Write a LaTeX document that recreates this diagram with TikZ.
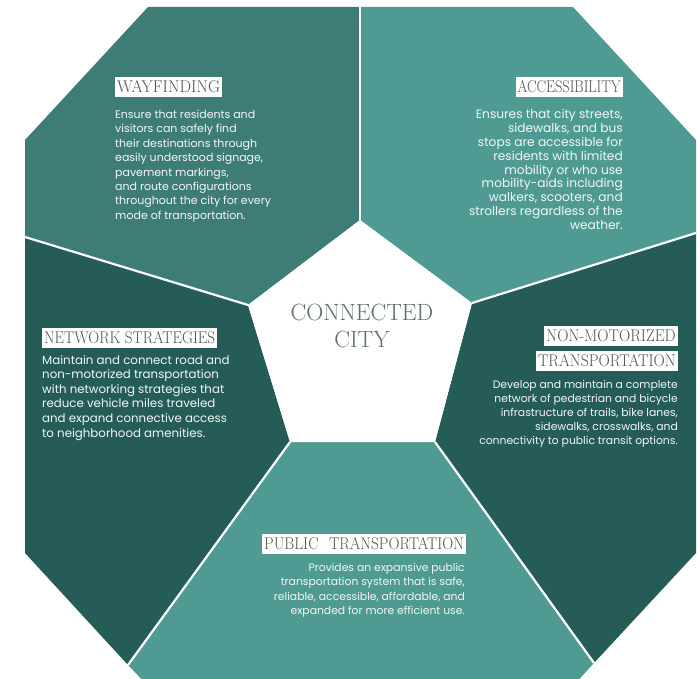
\documentclass[tikz,border=0pt]{standalone}
\usepackage{fontspec}
\usepackage{graphicx}
\newfontfamily\bodyfont{Poppins}
\definecolor{wfc}{HTML}{3E7D76}
\definecolor{lightc}{HTML}{4F9B94}
\definecolor{darkc}{HTML}{255C58}
\definecolor{headgray}{HTML}{4E5554}
\definecolor{citygray}{HTML}{5E6E6C}
\definecolor{bodywhite}{HTML}{F2F7F6}
\newcommand\hdtext[2][0.9]{\scalebox{#1}[1]{#2}}
\tikzset{
  divider/.style={draw=white, line width=2.2pt},
  headbox/.style={fill=white, text=headgray, inner xsep=2pt, inner ysep=0pt,
    text height=15pt, text depth=5pt, font=\fontsize{17}{19}\selectfont},
  bodytext/.style={text=bodywhite, inner sep=0pt},
}
\begin{document}
\begin{tikzpicture}[x=1pt,y=-1pt]
\useasboundingbox (0,0) rectangle (697,679);
\fill[white] (0,0) rectangle (697,679);
% octagon corners and divider points
\coordinate (o1) at (148,7);
\coordinate (o2) at (573,7);
\coordinate (o3) at (696,140);
\coordinate (o4) at (696,553);
\coordinate (o5) at (573,686);
\coordinate (o6) at (148,686);
\coordinate (o7) at (25,553);
\coordinate (o8) at (25,140);
\coordinate (dt) at (360,7);
\coordinate (dl) at (25,237);
\coordinate (dr) at (696,233);
\coordinate (dbl) at (128,665);
\coordinate (dbr) at (594,663);
% pentagon
\coordinate (p1) at (360,220);
\coordinate (p2) at (248,305);
\coordinate (p3) at (472,303);
\coordinate (p4) at (290,442);
\coordinate (p5) at (435,442);
\begin{scope}
\clip (0,0) rectangle (697,679);
\fill[wfc] (o1) -- (dt) -- (p1) -- (p2) -- (dl) -- (o8) -- cycle;
\fill[lightc] (dt) -- (o2) -- (o3) -- (dr) -- (p3) -- (p1) -- cycle;
\fill[darkc] (dl) -- (p2) -- (p4) -- (dbl) -- (o7) -- cycle;
\fill[darkc] (dr) -- (o4) -- (dbr) -- (p5) -- (p3) -- cycle;
\fill[lightc] (p4) -- (p5) -- (dbr) -- (o5) -- (o6) -- (dbl) -- cycle;
\fill[white] (p1) -- (p3) -- (p5) -- (p4) -- (p2) -- cycle;
\draw[divider] (dt) -- (p1);
\draw[divider] (dl) -- (p2);
\draw[divider] (dr) -- (p3);
\draw[divider] (p4) -- (dbl);
\draw[divider] (p5) -- (dbr);
\end{scope}
% centre
\node[text=citygray, align=center, font=\fontsize{23.5}{27}\selectfont, inner sep=0pt] (city) at (362,326) {CONNECTED\\CITY};
% wayfinding
\node[headbox, anchor=north west] (wfh) at (115,77) {\hdtext[0.97]{WAYFINDING}};
\node[bodytext, anchor=north west, align=left, font=\bodyfont\fontsize{11}{14.4}\selectfont] (wfb) at (115,110) {Ensure that residents and\\visitors can safely find\\their destinations through\\easily understood signage,\\pavement markings,\\and route configurations\\throughout the city for every\\mode of transportation.};
% accessibility
\node[headbox, anchor=north east] (ach) at (623,77) {\hdtext[0.84]{ACCESSIBILITY}};
\node[bodytext, anchor=north east, align=right, font=\bodyfont\fontsize{12.2}{13.9}\selectfont] (acb) at (623,109) {Ensures that city streets,\\sidewalks, and bus\\stops are accessible for\\residents with limited\\mobility or who use\\mobility-aids including\\walkers, scooters, and\\strollers regardless of the\\weather.};
% network strategies
\node[headbox, anchor=north west] (neth) at (42,328) {\hdtext[0.89]{NETWORK STRATEGIES}};
\node[bodytext, anchor=north west, align=left, font=\bodyfont\fontsize{11.8}{14.6}\selectfont] (netb) at (42,355) {Maintain and connect road and\\non-motorized transportation\\with networking strategies that\\reduce vehicle miles traveled\\and expand connective access\\to neighborhood amenities.};
% non-motorized
\node[headbox, anchor=north east] (nmh1) at (678,326) {\hdtext[0.92]{NON-MOTORIZED}};
\node[headbox, anchor=north east] (nmh2) at (678,351) {\hdtext[0.92]{TRANSPORTATION}};
\node[bodytext, anchor=north east, align=right, font=\bodyfont\fontsize{10.8}{14}\selectfont] (nmb) at (678,380) {Develop and maintain a complete\\network of pedestrian and bicycle\\infrastructure of trails, bike lanes,\\sidewalks, crosswalks, and\\connectivity to public transit options.};
% public transportation
\node[headbox, anchor=north west] (pubh) at (262,534) {\hdtext[0.9]{PUBLIC\hspace{12pt}TRANSPORTATION}};
\node[bodytext, anchor=north east, align=right, font=\bodyfont\fontsize{10.8}{14.3}\selectfont] (pubb) at (465,563) {Provides an expansive public\\transportation system that is safe,\\reliable, accessible, affordable, and\\expanded for more efficient use.};
\end{tikzpicture}
\end{document}
